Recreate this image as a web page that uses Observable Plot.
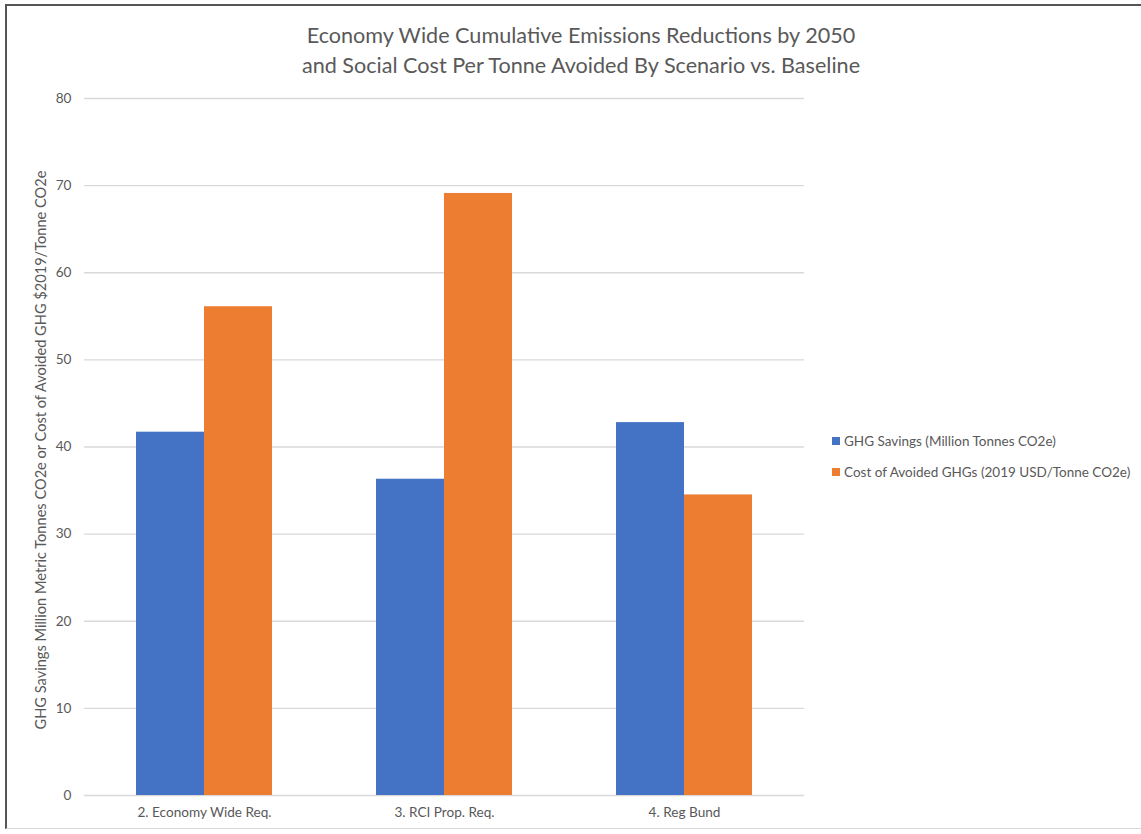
<!DOCTYPE html>
<html><head><meta charset="utf-8">
<script src="https://cdn.jsdelivr.net/npm/d3@7"></script>
<script src="https://cdn.jsdelivr.net/npm/@observablehq/plot@0.6"></script>
<style>
body{margin:0;background:#fff;font-family:Lato,"Open Sans",sans-serif;color:#595959;}
#wrap{position:relative;width:1141px;height:834px;overflow:hidden;background:#fff;}
#frame{position:absolute;left:5px;top:4px;width:1200px;height:825px;border-left:2px solid #555;border-top:2px solid #555;border-bottom:1px solid #d9d9d9;box-sizing:border-box;pointer-events:none;}
#title{position:absolute;left:0;width:1162px;top:21px;text-align:center;font-size:21.6px;line-height:29.5px;color:#595959;}
#chart{position:absolute;left:0;top:90px;}
#ylabel{position:absolute;left:40px;top:450px;transform:translate(-50%,-50%) rotate(-90deg);white-space:nowrap;font-size:14.6px;color:#595959;}
.leg{position:absolute;left:832px;font-size:13.5px;color:#595959;white-space:nowrap;display:flex;align-items:center;}
.leg span.sw{display:inline-block;width:8px;height:8px;margin-right:4px;}
</style>
</head><body>
<div id="wrap">
  <div id="title"></div>
  <div id="chart"></div>
  <div id="ylabel"></div>
  <div id="legend"></div>
  <div id="frame"></div>
</div>
<script>
const titleLines = ["Economy Wide Cumulative Emissions Reductions by 2050", "and Social Cost Per Tonne Avoided By Scenario vs. Baseline"];
const yAxisLabel = "GHG Savings Million Metric Tonnes CO2e or Cost of Avoided GHG $2019/Tonne CO2e";
const categories = ["2. Economy Wide Req.", "3. RCI Prop. Req.", "4. Reg Bund"];
const seriesNames = ["GHG Savings (Million Tonnes CO2e)", "Cost of Avoided GHGs (2019 USD/Tonne CO2e)"];
const ghgSavings = [41.7, 36.3, 42.8];
const costAvoided = [56.1, 69.1, 34.5];
const yTicks = [0, 10, 20, 30, 40, 50, 60, 70, 80];
const colors = ["#4472C4", "#ED7D31"];

const data = categories.flatMap((c, i) => [
  {category: c, series: seriesNames[0], value: ghgSavings[i]},
  {category: c, series: seriesNames[1], value: costAvoided[i]}
]);

document.getElementById("title").innerHTML = titleLines.map(t => `<div>${t}</div>`).join("");
document.getElementById("ylabel").textContent = yAxisLabel;

const legend = document.getElementById("legend");
const legTops = [441, 472];
seriesNames.forEach((s, i) => {
  const d = document.createElement("div");
  d.className = "leg";
  d.style.top = (legTops[i] - 9) + "px";
  d.style.height = "18px";
  d.innerHTML = `<span class="sw" style="background:${colors[i]}"></span><span>${s}</span>`;
  legend.appendChild(d);
});

const chart = Plot.plot({
  width: 1141,
  height: 744,
  marginTop: 8,
  marginBottom: 39,
  marginLeft: 84,
  marginRight: 337,
  style: {fontFamily: "Lato, 'Open Sans', sans-serif", fontSize: "13.6px", color: "#595959", background: "transparent"},
  fx: {domain: categories, padding: 0, axis: "bottom", label: null, tickSize: 0, tickPadding: 12},
  x: {domain: seriesNames, axis: null, paddingInner: 0, paddingOuter: 0.75},
  y: {domain: [0, 80], ticks: yTicks, tickSize: 0, tickPadding: 13, label: null},
  color: {domain: seriesNames, range: colors},
  marks: [
    Plot.ruleY(yTicks, {stroke: "#d9d9d9", strokeWidth: 1.3}),
    Plot.barY(data, {fx: "category", x: "series", y: "value", fill: "series"})
  ]
});
document.getElementById("chart").appendChild(chart);
</script>
</body></html>
